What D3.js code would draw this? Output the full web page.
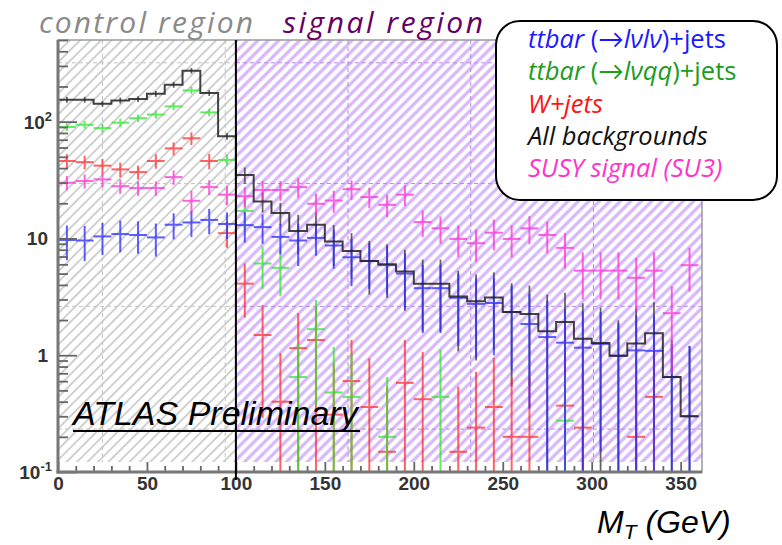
<!DOCTYPE html>
<html>
<head>
<meta charset="utf-8">
<script src="https://cdn.jsdelivr.net/npm/d3@7"></script>
<style>
  body { margin: 0; background: #fff; }
  svg { display: block; }
</style>
</head>
<body>
<svg id="chart" width="782" height="545"></svg>
<script>
// bin low edges (GeV), 10 GeV bins
const binLow = [0,10,20,30,40,50,60,70,80,90,100,110,120,130,140,150,160,170,180,190,
                200,210,220,230,240,250,260,270,280,290,300,310,320,330,340,350];

// All backgrounds
const allBkg    = [154,154,142,152,156,173,207,273,176,75, 35,20.7,16.5,11.6,13.1,9.4,7.8,6.4,6.0,5.2,
                   4.1,4.1,3.18,2.9,3.12,2.34,2.25,1.6,1.92,1.38, 1.27,0.99,1.26,1.54,0.65,0.30];
const allBkgErr = [9,9,8,9,9,10,12,15,10,5, 5.5,4.0,3.6,4.3,3.5,3.6,3.3,3.1,2.9,2.8,
                   2.5,2.5,2.1,2.0,2.0,1.8,1.7,1.7,1.5,1.4, 1.3,1.0,1.3,1.3,0.7,0.9];

// ttbar (-> lv lv) + jets
const ttDilep    = [9.7,9.6,10.4,10.9,10.7,10.2,13.1,13.7,14.4,13.3, 13.0,12.5,10.3,9.6,10.1,8.7,6.9,6.4,5.9,5.0,
                    3.75,3.75,3.1,2.75,2.8,2.34,1.85,1.43,1.28,1.16, 1.25,0.99,1.1,1.09,0.65,0.30];
const ttDilepErr = [3.2,3.2,3.2,3.3,3.3,3.2,3.3,3.4,3.5,3.4, 3.8,3.5,3.0,3.8,3.0,3.2,3.0,2.7,2.6,2.5,
                    2.2,2.2,1.9,1.8,1.8,1.6,1.5,1.5,1.2,1.2, 1.1,0.9,1.1,1.1,0.6,0.9];

// ttbar (-> lv qq) + jets
const ttSemi    = [90,94,88,98,107,115,135,185,120,47, 17.2,6.1,5.6,0.65,1.67,0.48,0.44,null,0.20,null,
                   null,0.44,null,null,null,null,null,null,0.275,null, null,null,null,null,null,null];
const ttSemiErr = [7,7,7,8,8,9,10,13,9,5, 5.5,2.4,2.4,0.6,1.3,0.7,0.6,null,0.45,null,
                   null,0.67,null,null,null,null,null,null,0.4,null, null,null,null,null,null,null];

// W + jets
const wjets    = [46,45,42,39,37,46,59,72,46,11.1, 4.1,1.49,0.40,1.15,1.35,0.31,0.60,0.36,0.149,0.58,
                  0.42,null,0.149,0.24,0.36,0.20,0.20,null,0.37,0.24, null,null,0.20,0.44,null,null];
const wjetsErr = [6.6,6,6,5.5,5,6.5,7.5,9,7,2.8, 2.0,1.2,0.64,1.14,1.25,0.54,0.75,0.58,0.39,0.77,
                  0.65,null,0.39,0.48,0.59,0.45,0.45,null,0.6,0.48, null,null,0.45,0.67,null,null];

// SUSY signal (SU3)
const susy    = [30,31,32,28,27,27,33.5,21,27.5,23.7, 23,26,26,27.5,19.8,21.1,26.4,22.6,19.4,23.7,
                 13.8,12.2,9.9,9.1,11.2,9.9,12.2,10.7,8.3,5.3, 5.3,5.3,4.6,5.3,2.29,5.9];
const susyErr = [4.2,4.3,4.5,4,3.8,3.8,4.7,4.5,4,4.5, 4.5,5,5,5.2,4.3,4.5,5,4.5,4.2,4.8,
                 3.5,3.2,3,2.8,3.3,3.0,3.3,3.2,2.8,2.3, 2.3,2.3,2.2,2.3,1.6,2.4];

const xMajorTicks = [0,50,100,150,200,250,300,350];
const yMajorTicks = [0.1,1,10,100];
const yTickLabels = [["10","-1"],["1",""],["10",""],["10","2"]];
const gridX = [25,94,163,232,301];
const gridY = [0.233,2.62,29.5,319];
const regionEdge = 100;

const legendItems = [
  {color: "#1a1aff", parts: [["ttbar",true],[" (\u2192",false],["l\u03bdl\u03bd",true],[")+jets",false]]},
  {color: "#1c9c1c", parts: [["ttbar",true],[" (\u2192",false],["l\u03bdqq",true],[")+jets",false]]},
  {color: "#ff1414", parts: [["W+jets",true]]},
  {color: "#111111", parts: [["All backgrounds",true]]},
  {color: "#ff33cc", parts: [["SUSY signal (SU3)",true]]}
];

const W = 782, H = 545;
const margin = {top: 40, right: 80, bottom: 73, left: 58};
const svg = d3.select("#chart");
const humanist = "'Open Sans', Lato, sans-serif";
const arial = "'Liberation Sans', Arial, sans-serif";

const x = d3.scaleLinear().domain([0, 362]).range([margin.left, W - margin.right]);
const y = d3.scaleLog().domain([0.1, 500]).range([H - margin.bottom, margin.top]);

// scale a text's font size so it spans the wanted width
function fitWidth(sel, target) {
  const w = sel.node().getComputedTextLength();
  const fs = +sel.attr("font-size");
  sel.attr("font-size", fs * target / w);
  return fs * target / w;
}
// keep the font size, widen the letter spacing instead
function fitSpacing(sel, target) {
  const w = sel.node().getComputedTextLength();
  const n = sel.text().length;
  sel.attr("letter-spacing", (target - w) / (n - 1));
}

svg.append("rect").attr("width", W).attr("height", H).attr("fill", "#fff");

// hatch patterns
const defs = svg.append("defs");
function hatch(id, color, w, step) {
  const p = defs.append("pattern")
    .attr("id", id)
    .attr("patternUnits", "userSpaceOnUse")
    .attr("width", step).attr("height", step)
    .attr("patternTransform", "rotate(45)");
  p.append("line")
    .attr("x1", step / 2).attr("y1", 0).attr("x2", step / 2).attr("y2", step)
    .attr("stroke", color).attr("stroke-width", w);
}
hatch("hatchGray", "#cdcdcd", 1.8, 7.4);
hatch("hatchPurple", "#d7b6fb", 3.2, 7.4);

defs.append("clipPath").attr("id", "plotClip")
  .append("rect")
  .attr("x", x(0)).attr("y", y.range()[1])
  .attr("width", x(362) - x(0)).attr("height", y.range()[0] - y.range()[1]);

const hatchBottom = y.range()[0] - 10;
svg.append("rect")
  .attr("x", x(0)).attr("y", margin.top)
  .attr("width", x(regionEdge) - x(0)).attr("height", hatchBottom - margin.top)
  .attr("fill", "url(#hatchGray)");
svg.append("rect")
  .attr("x", x(regionEdge)).attr("y", margin.top)
  .attr("width", x(362) - x(regionEdge)).attr("height", hatchBottom - margin.top)
  .attr("fill", "url(#hatchPurple)");

// dashed grid
const grid = svg.append("g").attr("fill", "none").attr("stroke-width", 1).attr("stroke-dasharray", "4,3");
gridY.forEach(v => {
  grid.append("line").attr("x1", x(0)).attr("x2", x(regionEdge)).attr("y1", y(v)).attr("y2", y(v)).attr("stroke", "#c4c4c4");
  grid.append("line").attr("x1", x(regionEdge)).attr("x2", x(362)).attr("y1", y(v)).attr("y2", y(v)).attr("stroke", "#b48ae6");
});
gridX.forEach(v => {
  grid.append("line").attr("x1", x(v)).attr("x2", x(v)).attr("y1", margin.top).attr("y2", hatchBottom)
    .attr("stroke", v < regionEdge ? "#c4c4c4" : "#b48ae6");
});

// data
const plot = svg.append("g").attr("clip-path", "url(#plotClip)");
const yMin = y.domain()[0];

function drawSeries(values, errs, color, opacity) {
  const pts = binLow.map((b, i) => ({b, v: values[i], e: errs[i]})).filter(d => d.v != null);
  const g = plot.append("g").attr("stroke", color).attr("stroke-width", 2).attr("opacity", opacity);
  g.selectAll(".h").data(pts).enter().append("line")
    .attr("x1", d => x(d.b)).attr("x2", d => x(d.b + 10))
    .attr("y1", d => y(d.v)).attr("y2", d => y(d.v));
  g.selectAll(".v").data(pts).enter().append("line")
    .attr("x1", d => x(d.b + 5)).attr("x2", d => x(d.b + 5))
    .attr("y1", d => y(d.v + d.e))
    .attr("y2", d => y(Math.max(d.v - d.e, yMin)));
}

// all-background error bars sit underneath the components
plot.append("g").attr("stroke", "#333").attr("stroke-width", 1.8).attr("opacity", 0.75)
  .selectAll("line").data(binLow.map((b, i) => ({b, v: allBkg[i], e: allBkgErr[i]})))
  .enter().append("line")
  .attr("x1", d => x(d.b + 5)).attr("x2", d => x(d.b + 5))
  .attr("y1", d => y(d.v + d.e)).attr("y2", d => y(Math.max(d.v - d.e, yMin)));

drawSeries(wjets, wjetsErr, "#ff2e2e", 0.75);
drawSeries(ttSemi, ttSemiErr, "#2ee62e", 0.75);
drawSeries(ttDilep, ttDilepErr, "#2f2fff", 0.78);
drawSeries(susy, susyErr, "#ff2ed6", 0.75);

// all backgrounds step histogram
const stepPts = binLow.map((b, i) => ({b, v: allBkg[i]}));
stepPts.push({b: binLow[binLow.length - 1] + 10, v: allBkg[allBkg.length - 1]});
plot.append("path")
  .datum(stepPts)
  .attr("fill", "none").attr("stroke", "#222").attr("stroke-width", 2).attr("opacity", 0.85)
  .attr("d", d3.line().x(d => x(d.b)).y(d => y(d.v)).curve(d3.curveStepAfter));

// frame
svg.append("rect")
  .attr("x", x(0)).attr("y", margin.top)
  .attr("width", x(362) - x(0)).attr("height", y.range()[0] - margin.top)
  .attr("fill", "none").attr("stroke", "#9a9a9a").attr("stroke-width", 1.5);

// y axis ticks
const yMinor = y.ticks().filter(v => !yMajorTicks.includes(v));
const yAxisMinor = svg.append("g").attr("transform", `translate(${x(0)},0)`)
  .call(d3.axisLeft(y).tickValues(yMinor).tickSize(-10).tickFormat(""));
const yAxisMajor = svg.append("g").attr("transform", `translate(${x(0)},0)`)
  .call(d3.axisLeft(y).tickValues(yMajorTicks).tickSize(-19).tickFormat(""));
[yAxisMinor, yAxisMajor].forEach(a => {
  a.select(".domain").remove();
  a.selectAll("line").attr("stroke", "#666").attr("stroke-width", 1.8);
});

// x axis ticks
const xAxisMinor = svg.append("g").attr("transform", `translate(0,${y.range()[0]})`)
  .call(d3.axisBottom(x).tickValues(binLow.filter(v => !xMajorTicks.includes(v))).tickSize(-6).tickFormat(""));
const xAxisMajor = svg.append("g").attr("transform", `translate(0,${y.range()[0]})`)
  .call(d3.axisBottom(x).tickValues(xMajorTicks).tickSize(-10).tickPadding(5).tickFormat(d3.format("d")));
[xAxisMinor, xAxisMajor].forEach(a => {
  a.select(".domain").remove();
  a.selectAll("line").attr("stroke", "#666").attr("stroke-width", 1.8);
});
xAxisMajor.selectAll("text")
  .attr("font-family", arial)
  .attr("font-weight", "bold").attr("font-size", 19).attr("fill", "#333");

// thick left/bottom axis lines
svg.append("line").attr("x1", x(0)).attr("x2", x(0)).attr("y1", margin.top).attr("y2", y.range()[0] + 1.5)
  .attr("stroke", "#777").attr("stroke-width", 3);
svg.append("line").attr("x1", x(0) - 1.5).attr("x2", x(362)).attr("y1", y.range()[0]).attr("y2", y.range()[0])
  .attr("stroke", "#777").attr("stroke-width", 3);

// y tick labels
const yl = svg.append("g")
  .attr("font-family", arial)
  .attr("font-weight", "bold").attr("fill", "#333").attr("text-anchor", "end");
yMajorTicks.forEach((v, i) => {
  const [base, sup] = yTickLabels[i];
  const t = yl.append("text").attr("x", sup ? x(0) - 6 : x(0) - 10).attr("y", y(v) + 7).attr("font-size", 19);
  t.append("tspan").text(base);
  if (sup) t.append("tspan").attr("font-size", 13).attr("dy", -8).text(sup);
});

// region divider
svg.append("line").attr("x1", x(regionEdge)).attr("x2", x(regionEdge))
  .attr("y1", margin.top).attr("y2", y.range()[0] + 8)
  .attr("stroke", "#000").attr("stroke-width", 2);

// region titles
const ctl = svg.append("text").attr("x", 39).attr("y", 33)
  .attr("font-family", humanist).attr("font-style", "italic")
  .attr("font-size", 30).attr("fill", "#8a8a8a").text("control region");
fitSpacing(ctl, 214);
const sig = svg.append("text").attr("x", 283).attr("y", 33)
  .attr("font-family", humanist).attr("font-style", "italic")
  .attr("font-size", 30).attr("fill", "#660066").text("signal region");
fitSpacing(sig, 200);

// ATLAS label
svg.append("text").attr("x", 73).attr("y", 425)
  .attr("font-family", arial).attr("font-style", "italic")
  .attr("font-size", 34).attr("fill", "#000").text("ATLAS Preliminary");
svg.append("line").attr("x1", 73).attr("x2", 360).attr("y1", 431).attr("y2", 431)
  .attr("stroke", "#000").attr("stroke-width", 2);

// x axis title
const xt = svg.append("text").attr("x", 597).attr("y", 533)
  .attr("font-family", arial).attr("font-style", "italic")
  .attr("font-size", 32).attr("fill", "#000");
xt.append("tspan").text("M");
xt.append("tspan").attr("font-size", 21).attr("dy", 6).text("T");
xt.append("tspan").attr("dy", -6).text(" (GeV)");

// legend
const lg = svg.append("g");
lg.append("rect").attr("x", 496).attr("y", 21).attr("width", 281).attr("height", 179).attr("rx", 24)
  .attr("fill", "#fff").attr("stroke", "#000").attr("stroke-width", 2);
const lines = legendItems.map((item, i) => {
  const t = lg.append("text").attr("x", 528).attr("y", 48 + i * 32.3)
    .attr("font-family", humanist).attr("font-size", 20).attr("fill", item.color);
  item.parts.forEach(([s, it]) => t.append("tspan").attr("font-style", it ? "italic" : "normal").text(s));
  return t;
});
const legendSize = fitWidth(lines[3], 180);
lines.forEach(t => t.attr("font-size", legendSize));
</script>
</body>
</html>
